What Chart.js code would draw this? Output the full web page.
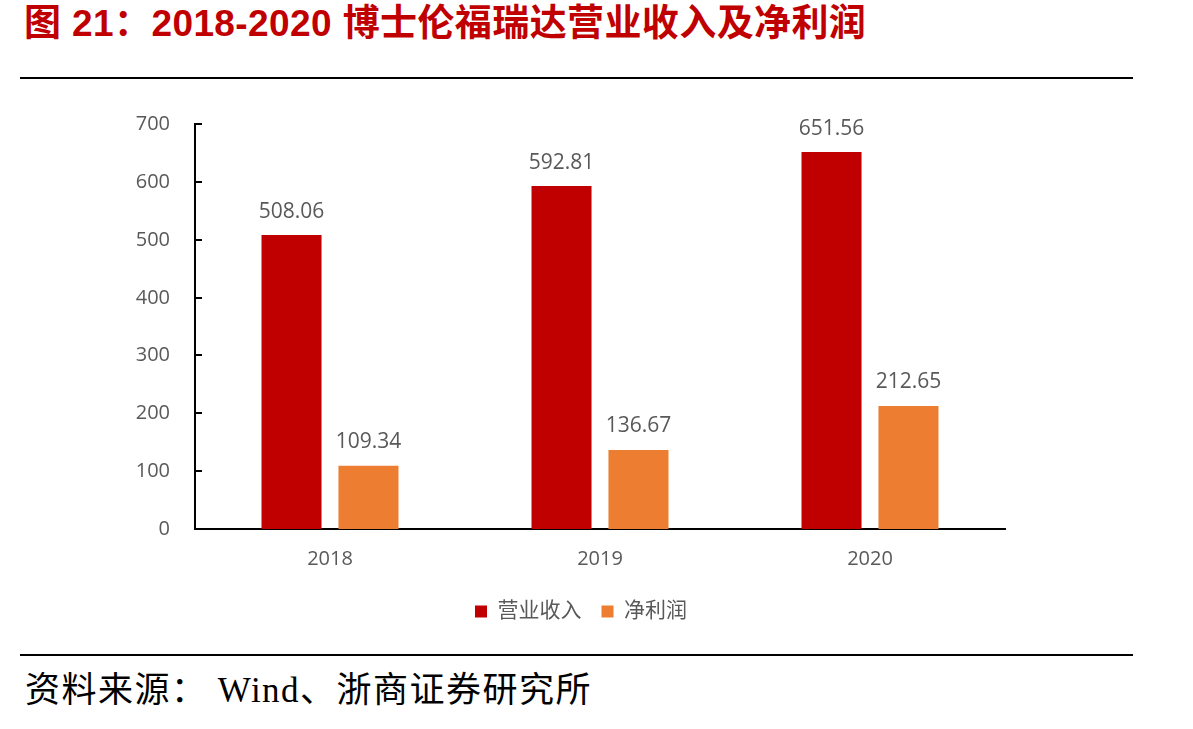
<!DOCTYPE html>
<html><head><meta charset="utf-8">
<script src="https://cdn.jsdelivr.net/npm/chart.js@4.4.1/dist/chart.umd.min.js"></script>
<style>
html,body{margin:0;padding:0;background:#fff;width:1193px;height:729px;overflow:hidden;position:relative}
#title{position:absolute;left:24px;top:4px;line-height:1.1;font-family:"Liberation Sans","Noto Sans CJK SC",sans-serif;font-weight:bold;font-size:37px;letter-spacing:0.4px;color:#C00000;white-space:nowrap}
.rule{position:absolute;left:20px;width:1113px;background:#000}
#foot{position:absolute;left:25px;top:672px;line-height:1.1;font-family:"Liberation Serif","Noto Sans CJK SC",serif;font-size:35px;letter-spacing:1.5px;color:#000;white-space:nowrap}
#wrap{position:absolute;left:0;top:100px;width:1193px;height:540px}
</style></head><body>
<div id="title">图 21：2018-2020 博士伦福瑞达营业收入及净利润</div>
<div class="rule" style="top:77px;height:2px"></div>
<div class="rule" style="top:654px;height:2px"></div>
<div id="foot">资料来源： Wind、浙商证券研究所</div>
<div id="wrap"><canvas id="c" width="1193" height="540"></canvas></div>
<script>
const categories = ["2018","2019","2020"];
const revenue = [508.06, 592.81, 651.56];
const netProfit = [109.34, 136.67, 212.65];
const seriesNames = ["营业收入","净利润"];
const yTicks = [0,100,200,300,400,500,600,700];

const font = '"Open Sans","Noto Sans CJK SC",sans-serif';
const gray = '#595959';

const labelPlugin = {
  id:'labels',
  afterDatasetsDraw(chart){
    const ctx = chart.ctx;
    ctx.save();
    ctx.font = '21px ' + font;
    ctx.fillStyle = gray;
    ctx.textAlign = 'center';
    ctx.textBaseline = 'bottom';
    chart.data.datasets.forEach((ds,i)=>{
      chart.getDatasetMeta(i).data.forEach((bar,j)=>{
        ctx.fillText(ds.data[j].toFixed(2), bar.x, bar.y - 13);
      });
    });
    const ys = chart.scales.y;
    // y tick labels and inside tick marks
    ctx.font = '20px ' + font;
    ctx.textAlign = 'right';
    ctx.textBaseline = 'middle';
    ctx.strokeStyle = '#000';
    ctx.lineWidth = 2;
    yTicks.forEach(v=>{
      const py = Math.round(ys.getPixelForValue(v));
      ctx.fillText(String(v), ys.right - 25, py);
      ctx.beginPath();
      ctx.moveTo(ys.right, py);
      ctx.lineTo(ys.right + 7, py);
      ctx.stroke();
    });
    ctx.restore();
  }
};

new Chart(document.getElementById('c'), {
  type:'bar',
  data:{
    labels:categories,
    datasets:[
      {label:seriesNames[0], data:revenue, backgroundColor:'#C00000'},
      {label:seriesNames[1], data:netProfit, backgroundColor:'#ED7D31'}
    ]
  },
  options:{
    responsive:false,
    animation:false,
    devicePixelRatio:1,
    layout:{padding:{left:157,right:188,top:24,bottom:8}},
    datasets:{bar:{categoryPercentage:0.57,barPercentage:0.78}},
    plugins:{
      legend:{position:'bottom',
        labels:{boxWidth:12,boxHeight:12,font:{size:21,family:font},color:gray,padding:20}},
      tooltip:{enabled:false}
    },
    scales:{
      x:{
        grid:{display:false,drawTicks:false},
        border:{color:'#000',width:2},
        ticks:{color:gray,font:{size:20,family:font},padding:18},
        afterFit(s){s.height = 52;}
      },
      y:{
        min:0,max:700,
        afterBuildTicks(s){s.ticks = yTicks.map(v=>({value:v}));},
        grid:{display:false,drawTicks:false},
        border:{color:'#000',width:2},
        ticks:{display:false},
        afterFit(s){s.width = 38;}
      }
    }
  },
  plugins:[labelPlugin]
});
</script>
</body></html>
